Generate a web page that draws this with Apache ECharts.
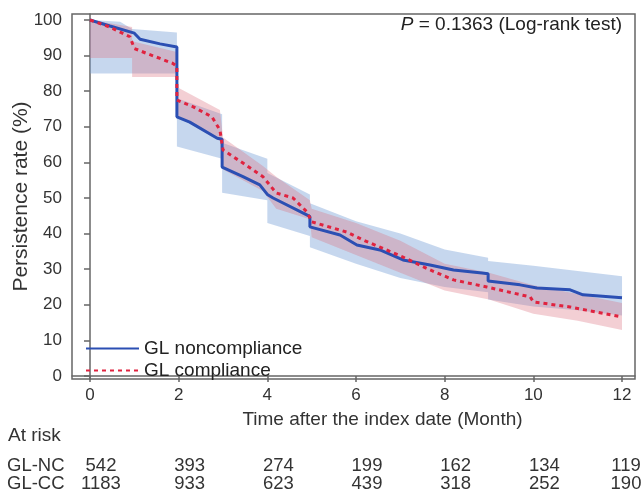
<!DOCTYPE html>
<html>
<head>
<meta charset="utf-8">
<script src="https://cdn.jsdelivr.net/npm/echarts@6/dist/echarts.min.js"></script>
<style>
  html, body { margin: 0; padding: 0; background: #fff; }
  #chart { width: 642px; height: 495px; }
</style>
</head>
<body>
<div id="chart"></div>
<script>
// Kaplan-Meier curves (month, %)
const timeNC = [0, 0.45, 1.0, 1.13, 1.58, 1.96, 1.96, 2.25, 2.87, 2.98, 2.98, 3.45, 3.83, 4.0, 4.13, 4.9, 4.96, 4.96, 5.64, 6.02, 6.54, 7.06, 7.67, 8.2, 8.84, 8.98, 8.98, 9.7, 10.08, 10.83, 11.12, 12];
const survNC = [100, 98.3, 96.3, 94.6, 93.3, 92.4, 72.8, 71.3, 66.8, 66.5, 58.7, 56, 53.7, 51, 50, 45.2, 44.8, 41.9, 39.6, 36.8, 35.4, 32.6, 31.2, 29.8, 28.9, 28.7, 26.7, 25.6, 24.7, 24.2, 22.8, 22];

const timeCC = [0, 0.45, 0.9, 1.0, 1.28, 1.58, 1.87, 1.96, 1.96, 2.33, 2.75, 2.93, 3.0, 3.45, 3.9, 4.2, 4.58, 4.9, 5.0, 5.8, 6.16, 6.54, 7.06, 7.67, 8.2, 8.95, 9.93, 10.0, 10.83, 11.2, 12];
const survCC = [100, 98, 95.3, 92, 90.6, 89.2, 87.8, 87, 77.5, 75.6, 72.8, 69.1, 63.5, 59.8, 56, 51.4, 50, 46, 43.3, 40.4, 38.2, 36.2, 33.4, 29.8, 27, 25, 22.2, 20.8, 19.4, 18.5, 16.6];

// confidence bands
const bandTimeNC = [0, 0.68, 0.95, 1.96, 1.96, 2.98, 2.98, 4.0, 4.0, 4.96, 4.96, 6.0, 7.0, 8.0, 8.98, 8.98, 10.0, 11.0, 12];
const bandUpperNC = [100, 99.5, 97.5, 96.5, 78, 73.5, 65.5, 61, 57, 51, 48.5, 43.5, 40, 35.5, 33.2, 32.3, 31, 29.5, 28];
const bandLowerNC = [85, 85, 85, 85, 64.5, 61, 51.5, 49.4, 43, 39.3, 36.2, 31.5, 27.5, 25, 23.5, 21.5, 19.5, 18.5, 17];

const bandTimeCC = [0, 0.95, 0.95, 1.96, 1.96, 2.93, 3.0, 3.9, 4.2, 4.96, 5.0, 6.0, 7.0, 8.0, 9.0, 10.0, 11.0, 12];
const bandUpperCC = [100, 98, 94, 91, 81.2, 74.7, 67, 59, 56, 49.4, 47, 43, 38, 31.5, 29, 25.5, 23, 20.5];
const bandLowerCC = [89.3, 89.3, 84, 84, 73, 66, 58, 52, 47, 44, 39, 34, 29, 24, 21.5, 17.5, 15.5, 12.9];

// axis ticks
const monthTicks = [0, 2, 4, 6, 8, 10, 12];
const rateTicks = [0, 10, 20, 30, 40, 50, 60, 70, 80, 90, 100];

// numbers at risk at months 0,2,...,12
const riskNC = [542, 393, 274, 199, 162, 134, 119];
const riskCC = [1183, 933, 623, 439, 318, 252, 190];

const FONT = 'Liberation Sans, Arial, sans-serif';
const TXT = '#333';
const FRAME = '#666';
// axis ranges slightly wider than the data, as in the Stata frame
const X_MIN = -0.406, X_MAX = 12.293;
const Y_MIN = -0.843, Y_MAX = 101.685;

const pairs = (xs, ys) => xs.map((x, i) => [x, ys[i]]);

// CI band as a polygon: upper edge forward, lower edge back
function bandSeries(xs, lo, hi, color) {
    return {
        type: 'custom', silent: true, z: 1,
        data: [[0, 0]],
        renderItem: (params, api) => {
            const pts = xs.map((x, i) => api.coord([x, hi[i]]));
            for (let i = xs.length - 1; i >= 0; i--) pts.push(api.coord([xs[i], lo[i]]));
            return { type: 'polygon', shape: { points: pts }, style: { fill: color } };
        }
    };
}

function riskAxis(gridIndex, values) {
    return {
        gridIndex: gridIndex, type: 'value', min: X_MIN, max: X_MAX,
        axisLine: { show: false }, axisTick: { show: false }, splitLine: { show: false },
        axisLabel: {
            margin: 0, customValues: monthTicks,
            formatter: v => {
                const n = values[monthTicks.indexOf(v)];
                return v === 12 ? '{e|' + n + '}' : '{n|' + n + '}';
            },
            rich: {
                n: { fontSize: 18.5, color: TXT, fontFamily: FONT, padding: [0, 0, 0, 22] },
                e: { fontSize: 18.5, color: TXT, fontFamily: FONT, padding: [0, 0, 0, 8] }
            }
        }
    };
}

const chart = echarts.init(document.getElementById('chart'));
chart.setOption({
    animation: false,
    grid: [
        { left: 72, right: 7, top: 14, bottom: 116, show: true, borderColor: FRAME, borderWidth: 1.5, outerBoundsMode: 'none', containLabel: false },
        { left: 72, right: 7, top: 455, height: 1, outerBoundsMode: 'none' },
        { left: 72, right: 7, top: 473, height: 1, outerBoundsMode: 'none' }
    ],
    xAxis: [{
        gridIndex: 0, type: 'value', min: X_MIN, max: X_MAX,
        axisLine: { show: true, lineStyle: { color: FRAME, width: 1.5 } },
        axisTick: { show: true, inside: false, length: 6, customValues: monthTicks, lineStyle: { color: FRAME, width: 1.5 } },
        axisLabel: { fontSize: 17, color: TXT, fontFamily: FONT, margin: 8, customValues: monthTicks },
        splitLine: { show: false },
        name: 'Time after the index date (Month)', nameLocation: 'middle', nameGap: 31, nameMoveOverlap: false,
        nameTextStyle: { fontSize: 19, color: TXT, fontFamily: FONT, padding: [0, 0, 0, 58] }
    }, riskAxis(1, riskNC), riskAxis(2, riskCC)],
    yAxis: [{
        gridIndex: 0, type: 'value', min: Y_MIN, max: Y_MAX,
        axisLine: { show: true, lineStyle: { color: FRAME, width: 1.5 } },
        axisTick: { show: true, inside: false, length: 6, customValues: rateTicks, lineStyle: { color: FRAME, width: 1.5 } },
        axisLabel: { fontSize: 17, color: TXT, fontFamily: FONT, margin: 10, customValues: rateTicks },
        splitLine: { show: false },
        name: 'Persistence rate (%)', nameLocation: 'middle', nameGap: 40, nameRotate: 90, nameMoveOverlap: false,
        nameTextStyle: { fontSize: 21, color: TXT, fontFamily: FONT }
    }, { gridIndex: 1, type: 'value', show: false },
       { gridIndex: 2, type: 'value', show: false }],
    legend: {
        data: ['GL noncompliance', 'GL compliance'],
        orient: 'vertical', left: 80, top: 334,
        itemWidth: 53, itemHeight: 12, itemGap: 3,
        itemStyle: { opacity: 0 },
        textStyle: { fontSize: 19, color: '#222', fontFamily: FONT }
    },
    graphic: [{
        type: 'text', right: 20, top: 15,
        style: {
            text: '{i|P} = 0.1363 (Log-rank test)',
            fontSize: 19, fill: '#222', fontFamily: FONT,
            rich: { i: { fontStyle: 'italic', fontSize: 19, fill: '#222', fontFamily: FONT } }
        }
    }, {
        type: 'text', left: 8, top: 426,
        style: { text: 'At risk', fontSize: 19, fill: TXT, fontFamily: FONT }
    }, {
        type: 'text', left: 7, top: 456,
        style: { text: 'GL-NC', fontSize: 18.5, fill: TXT, fontFamily: FONT }
    }, {
        type: 'text', left: 7, top: 474,
        style: { text: 'GL-CC', fontSize: 18.5, fill: TXT, fontFamily: FONT }
    }],
    series: [
        bandSeries(bandTimeNC, bandLowerNC, bandUpperNC, 'rgba(120,160,215,0.42)'),
        bandSeries(bandTimeCC, bandLowerCC, bandUpperCC, 'rgba(220,110,125,0.33)'),
        {
            name: 'GL noncompliance', type: 'line', symbol: 'none', z: 3,
            data: pairs(timeNC, survNC),
            lineStyle: { color: '#2b4fb3', width: 3 }, itemStyle: { color: '#2b4fb3' }
        }, {
            name: 'GL compliance', type: 'line', symbol: 'none', z: 4,
            data: pairs(timeCC, survCC),
            lineStyle: { color: '#e0233f', width: 3, type: [4, 4] }, itemStyle: { color: '#e0233f' }
        }
    ]
});
</script>
</body>
</html>
